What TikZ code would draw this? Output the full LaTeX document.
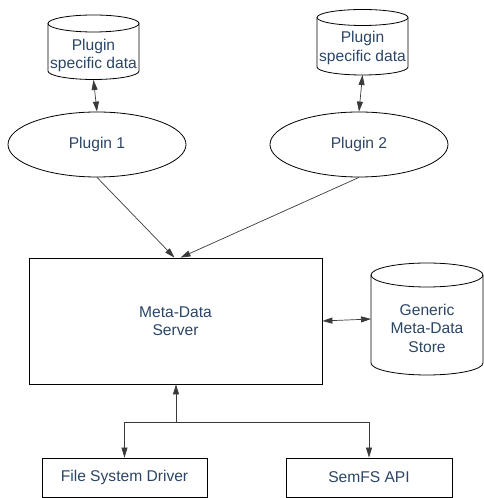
\documentclass[tikz,border=0pt]{standalone}
\usepackage{fontspec}
\setmainfont{Liberation Sans}
\usetikzlibrary{arrows.meta,shapes.geometric,calc}
\definecolor{txt}{HTML}{2B4565}
\definecolor{ln}{HTML}{3A3A3A}
\newcommand\drawcyl[5]{%
  \draw[outl] (#1-#2,#3) -- (#1-#2,#4) arc[start angle=180,end angle=360,x radius=#2,y radius=#5] -- (#1+#2,#3);
  \draw[outl] (#1,#3) ellipse[x radius=#2,y radius=#5];}
\begin{document}
\begin{tikzpicture}[x=1pt,y=1pt,
  outl/.style={draw=black,line width=0.8pt},
  con/.style={draw=ln,line width=0.7pt},
  tip/.style={-{Triangle[length=10pt,width=6pt]}},
  dtip/.style={{Triangle[length=10pt,width=6pt]}-{Triangle[length=10pt,width=6pt]}},
  lbl/.style={text=txt,font=\fontsize{15.6}{18.5}\selectfont,align=center,inner sep=0pt},
  ghost/.style={draw=none,inner sep=0pt,outer sep=0pt},
  boxx/.style={outl,rectangle,inner sep=0pt,text=txt,font=\fontsize{15.6}{18.5}\selectfont,align=center},
  ell/.style={outl,ellipse,inner sep=0pt,minimum width=178pt,minimum height=65pt,text=txt,font=\fontsize{15.6}{18.5}\selectfont}]
\useasboundingbox (0,0) rectangle (484,498);
% cylinders
\drawcyl{93.5}{45.5}{474.5}{427}{8.5}
\node[ghost,minimum width=91pt,minimum height=65pt] (c1) at (93.5,450.5) {};
\node[lbl] (c1t) at (93.5,442.5) {Plugin\\specific data};
\drawcyl{362.5}{45.5}{480.5}{431}{8}
\node[ghost,minimum width=91pt,minimum height=66pt] (c2) at (362.5,456) {};
\node[lbl] (c2t) at (362.5,450) {Plugin\\specific data};
\drawcyl{427}{56}{223}{135}{12}
\node[ghost,minimum width=112pt,minimum height=112pt] (gen) at (427,179) {};
\node[lbl] (gent) at (427,170) {Generic\\Meta-Data\\Store};
% plugins
\node[ell] (p1) at (97,353.5) {Plugin 1};
\node[ell] (p2) at (359,353.5) {Plugin 2};
% server
\node[boxx,minimum width=293pt,minimum height=126pt] (srv) at (175.5,177) {Meta-Data\\Server};
% bottom boxes
\node[boxx,minimum width=165pt,minimum height=39pt] (fsd) at (124.5,20.5) {File System Driver};
\node[boxx,minimum width=166pt,minimum height=39pt] (sem) at (369,20.5) {SemFS API};
\coordinate (j) at (176,76);
% connectors
\draw[con,dtip] (c1.south) -- (p1.north);
\draw[con,dtip] (c2.south) -- (p2.north);
\draw[con,tip] (p1.south) -- ([xshift=-1pt]srv.north);
\draw[con,tip] (p2.south) -- ([xshift=5pt]srv.north);
\draw[con,dtip] (srv.east) -- (gen.west);
\draw[con,tip] (j) -- (j |- srv.south);
\draw[con,tip] (j) -| (fsd.north);
\draw[con,tip] (j) -| (sem.north);
\end{tikzpicture}
\end{document}
